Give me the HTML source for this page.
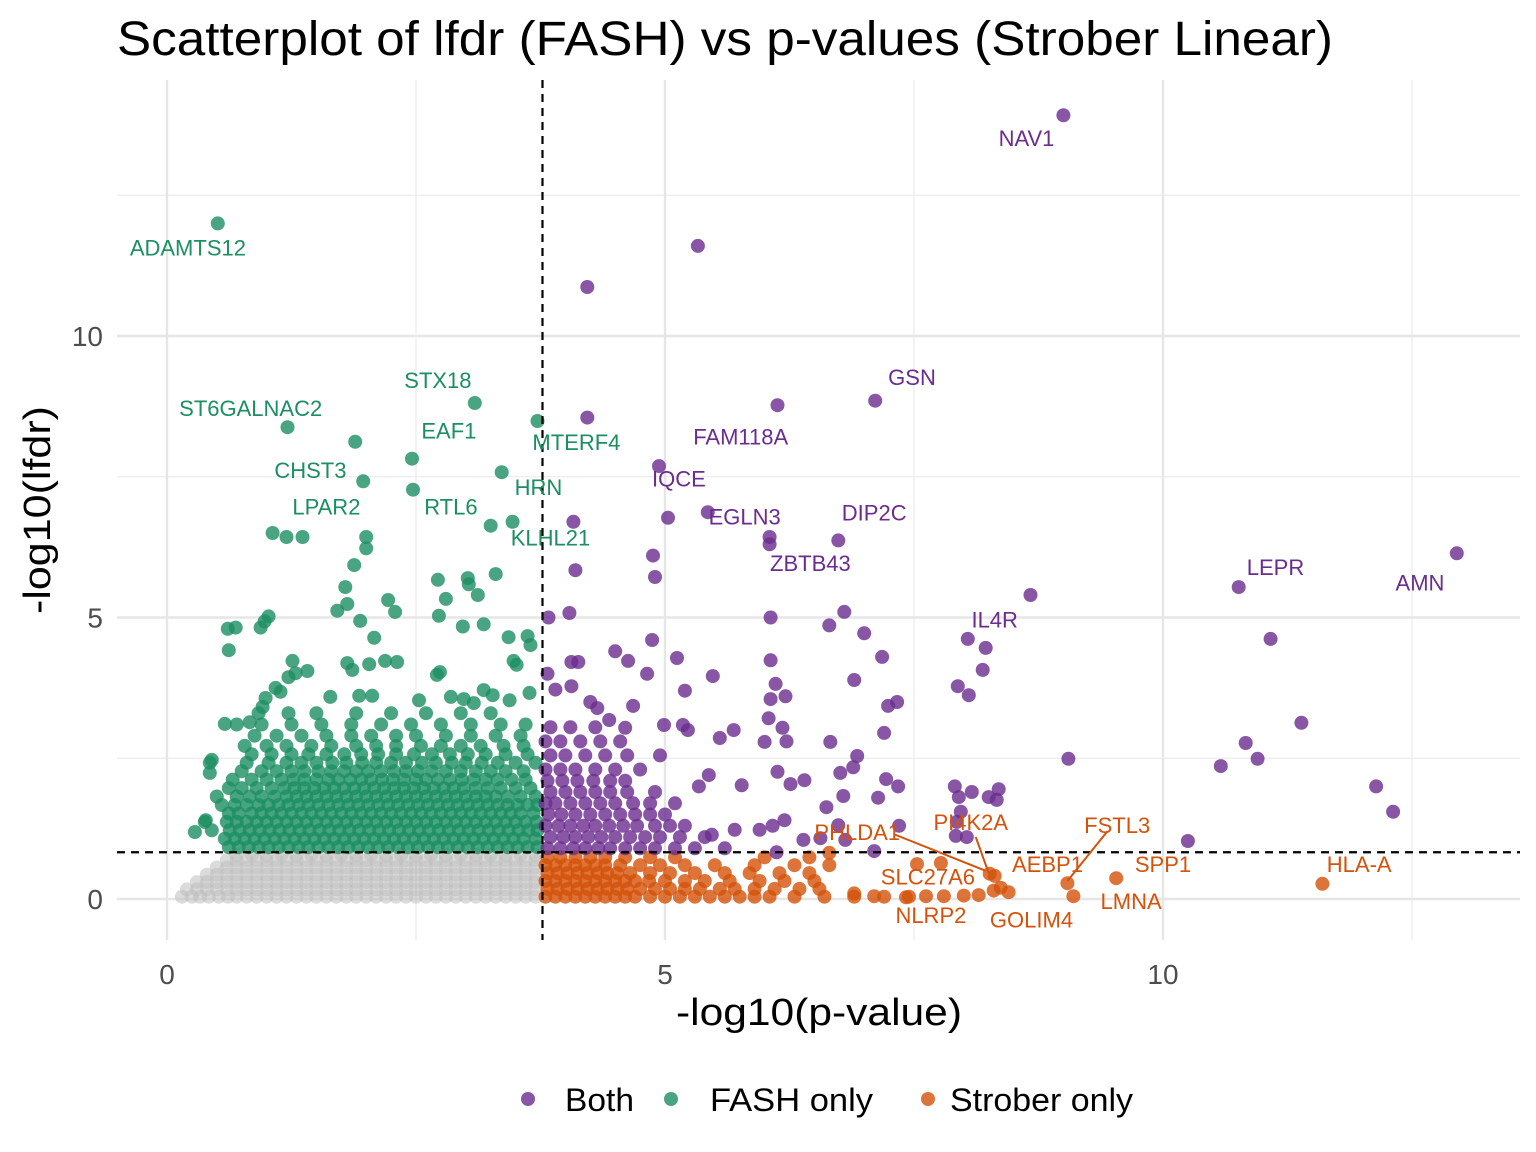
<!DOCTYPE html>
<html><head><meta charset="utf-8"><style>
html,body{margin:0;padding:0;background:#fff;}
svg{display:block;font-family:"Liberation Sans",Arial,sans-serif;}
</style></head><body>
<svg id="chart" width="1536" height="1152" viewBox="0 0 1536 1152" xmlns="http://www.w3.org/2000/svg">
<rect width="1536" height="1152" fill="#fff"/>
<text x="117" y="55" font-size="48" textLength="1216" lengthAdjust="spacingAndGlyphs" fill="#000">Scatterplot of lfdr (FASH) vs p-values (Strober Linear)</text>
<g id="grid"></g>
<g id="pts"></g>
<g id="labels"></g>
<text x="819" y="1025" font-size="38" textLength="286" lengthAdjust="spacingAndGlyphs" text-anchor="middle" fill="#000">-log10(p-value)</text>
<text transform="translate(50,510) rotate(-90)" font-size="38" textLength="208" lengthAdjust="spacingAndGlyphs" text-anchor="middle" fill="#000">-log10(lfdr)</text>
<g font-size="32" fill="#000">
<g><circle cx="528" cy="1099" r="7" fill="#6a2c8f" fill-opacity="0.8"/><text x="565" y="1111" textLength="69" lengthAdjust="spacingAndGlyphs">Both</text></g>
<g><circle cx="671" cy="1099" r="7" fill="#1b8e62" fill-opacity="0.8"/><text x="710" y="1111" textLength="163" lengthAdjust="spacingAndGlyphs">FASH only</text></g>
<g><circle cx="928" cy="1099" r="7" fill="#d4520a" fill-opacity="0.8"/><text x="950" y="1111" textLength="183" lengthAdjust="spacingAndGlyphs">Strober only</text></g>
</g>
</svg>
<script>
const xTicks = [0, 5, 10];
const yTicks = [0, 5, 10];
const xMinor = [2.5, 7.5, 12.5];
const yMinor = [2.5, 7.5, 12.5];
const pThreshold = 3.77;
const lfdrThreshold = 0.83;

const greyRowY = [0.04, 0.17, 0.3, 0.43, 0.56, 0.69, 0.78];
const greyRowX = [
 [0.15,0.25,0.33,0.42,0.52,0.61,0.7,0.8,0.9,1.0,1.1,1.2,1.3,1.4,1.5,1.6,1.7,1.8,1.9,2.0,2.1,2.2,2.3,2.4,2.5,2.6,2.7,2.8,2.9,3.0,3.1,3.2,3.3,3.4,3.5,3.6,3.7],
 [0.2,0.3,0.4,0.5,0.6,0.7,0.8,0.9,1.0,1.1,1.2,1.3,1.4,1.5,1.6,1.7,1.8,1.9,2.0,2.1,2.2,2.3,2.4,2.5,2.6,2.7,2.8,2.9,3.0,3.1,3.2,3.3,3.4,3.5,3.6,3.7],
 [0.3,0.4,0.5,0.6,0.7,0.8,0.9,1.0,1.1,1.2,1.3,1.4,1.5,1.6,1.7,1.8,1.9,2.0,2.1,2.2,2.3,2.4,2.5,2.6,2.7,2.8,2.9,3.0,3.1,3.2,3.3,3.4,3.5,3.6,3.7],
 [0.4,0.5,0.6,0.7,0.8,0.9,1.0,1.1,1.2,1.3,1.4,1.5,1.6,1.7,1.8,1.9,2.0,2.1,2.2,2.3,2.4,2.5,2.6,2.7,2.8,2.9,3.0,3.1,3.2,3.3,3.4,3.5,3.6,3.7],
 [0.5,0.6,0.7,0.8,0.9,1.0,1.1,1.2,1.3,1.4,1.5,1.6,1.7,1.8,1.9,2.0,2.1,2.2,2.3,2.4,2.5,2.6,2.7,2.8,2.9,3.0,3.1,3.2,3.3,3.4,3.5,3.6,3.7],
 [0.6,0.7,0.8,0.9,1.0,1.1,1.2,1.3,1.4,1.5,1.6,1.7,1.8,1.9,2.0,2.1,2.2,2.3,2.4,2.5,2.6,2.7,2.8,2.9,3.0,3.1,3.2,3.3,3.4,3.5,3.6,3.7],
 [0.7,0.85,1.0,1.15,1.3,1.45,1.6,1.75,1.9,2.05,2.2,2.35,2.5,2.65,2.8,2.95,3.1,3.25,3.4,3.55,3.7]
];

const fashRowY = [0.92,1.07,1.22,1.37,1.52,1.67,1.82,1.97,2.12,2.27,2.42,2.57,2.72,2.9,3.1,3.3];
const fashRowX = [
 [0.62,0.72,0.82,0.92,1.02,1.12,1.22,1.32,1.42,1.52,1.62,1.72,1.82,1.92,2.02,2.12,2.22,2.32,2.42,2.52,2.62,2.72,2.82,2.92,3.02,3.12,3.22,3.32,3.42,3.52,3.62,3.72],
 [0.58,0.68,0.78,0.88,0.98,1.08,1.18,1.28,1.38,1.48,1.58,1.68,1.78,1.88,1.98,2.08,2.18,2.28,2.38,2.48,2.58,2.68,2.78,2.88,2.98,3.08,3.18,3.28,3.38,3.48,3.58,3.7],
 [0.45,0.63,0.73,0.83,0.93,1.03,1.13,1.23,1.33,1.43,1.53,1.63,1.73,1.83,1.93,2.03,2.13,2.23,2.33,2.43,2.53,2.63,2.73,2.83,2.93,3.03,3.13,3.23,3.33,3.43,3.53,3.63,3.72],
 [0.38,0.6,0.7,0.8,0.9,1.0,1.1,1.2,1.3,1.4,1.5,1.6,1.7,1.8,1.9,2.0,2.1,2.2,2.3,2.4,2.5,2.6,2.7,2.8,2.9,3.0,3.1,3.2,3.3,3.4,3.5,3.6,3.71],
 [0.62,0.72,0.85,0.95,1.05,1.15,1.25,1.35,1.45,1.55,1.65,1.75,1.85,1.95,2.05,2.15,2.25,2.35,2.45,2.55,2.65,2.75,2.85,2.95,3.05,3.15,3.25,3.35,3.45,3.55,3.68],
 [0.55,0.68,0.8,0.92,1.02,1.12,1.22,1.32,1.42,1.52,1.62,1.72,1.82,1.92,2.02,2.12,2.22,2.32,2.42,2.52,2.62,2.72,2.82,2.92,3.02,3.12,3.22,3.32,3.42,3.52,3.62,3.72],
 [0.5,0.7,0.83,0.95,1.08,1.2,1.3,1.4,1.5,1.6,1.7,1.8,1.9,2.0,2.1,2.2,2.3,2.4,2.5,2.6,2.7,2.8,2.9,3.0,3.1,3.2,3.3,3.42,3.55,3.7],
 [0.62,0.75,0.9,1.05,1.18,1.28,1.38,1.48,1.58,1.68,1.78,1.88,1.98,2.08,2.18,2.28,2.38,2.48,2.58,2.68,2.78,2.88,2.98,3.1,3.22,3.35,3.5,3.65],
 [0.66,0.85,1.0,1.15,1.27,1.38,1.5,1.62,1.72,1.84,1.95,2.05,2.16,2.27,2.38,2.5,2.6,2.72,2.84,2.96,3.08,3.2,3.32,3.46,3.6],
 [0.75,0.95,1.1,1.25,1.38,1.52,1.65,1.78,1.9,2.02,2.15,2.28,2.4,2.52,2.66,2.8,2.95,3.1,3.25,3.4,3.58],
 [0.43,0.8,1.02,1.2,1.35,1.5,1.66,1.8,1.96,2.1,2.25,2.4,2.56,2.7,2.86,3.0,3.16,3.32,3.5,3.7],
 [0.85,1.05,1.25,1.42,1.6,1.78,1.95,2.12,2.3,2.48,2.66,2.84,3.02,3.2,3.4,3.62],
 [0.78,1.0,1.2,1.45,1.65,1.9,2.1,2.3,2.55,2.75,2.95,3.15,3.38,3.58],
 [0.88,1.1,1.35,1.6,1.85,2.05,2.3,2.5,2.8,3.05,3.3,3.55],
 [0.7,0.95,1.25,1.55,1.85,2.15,2.45,2.75,3.05,3.35,3.6],
 [0.92,1.22,1.5,1.9,2.25,2.6,2.95,3.25]
];
const fashX = [0.51,1.21,3.09,3.72,1.89,2.46,1.97,2.47,3.36,3.25,3.47,1.06,1.2,1.36,2.0,2.0,0.61,0.69,0.94,0.98,1.02,0.62,0.58,1.26,1.29,1.41,1.71,1.79,1.81,1.88,1.94,1.81,1.86,2.08,2.03,2.22,2.29,2.19,2.31,2.72,2.8,2.73,3.02,3.03,3.12,3.3,2.97,3.18,3.43,3.62,3.65,3.48,3.51,2.74,2.71,3.18,3.27,3.44,3.64,1.22,1.09,1.14,0.99,0.96,0.83,1.64,1.93,2.06,2.53,2.85,2.98,3.08,0.28,0.39,0.45,0.43];
const fashY = [12.0,8.38,8.81,8.49,8.12,7.82,7.42,7.27,7.58,6.63,6.7,6.5,6.43,6.43,6.43,6.23,4.8,4.82,4.82,4.93,5.02,4.42,3.11,4.23,4.01,4.05,5.12,5.54,5.24,5.93,4.94,4.19,4.07,4.64,4.17,5.31,5.1,4.23,4.21,5.67,5.33,5.03,5.7,5.59,5.4,5.77,4.84,4.88,4.65,4.67,4.51,4.23,4.16,4.03,3.98,3.71,3.62,3.53,3.66,3.94,3.75,3.68,3.57,3.41,3.14,3.59,3.61,3.61,3.53,3.59,3.55,3.48,1.19,1.4,2.47,2.24];

const bothRowY = [0.9,1.1,1.3,1.5,1.7,1.9,2.1,2.3,2.55,2.8,3.05];
const bothRowX = [
 [3.82,3.95,4.08,4.2,4.33,4.45,4.6,4.75,4.9,5.1,5.3,5.6],
 [3.85,3.98,4.1,4.23,4.36,4.5,4.65,4.8,4.95,5.15,5.4],
 [3.8,3.93,4.05,4.18,4.3,4.44,4.58,4.72,4.9,5.05,5.2],
 [3.83,3.96,4.1,4.25,4.4,4.55,4.7,4.85,5.0],
 [3.8,3.9,4.05,4.2,4.35,4.5,4.68,4.85,5.1],
 [3.85,4.0,4.15,4.3,4.45,4.62,4.9],
 [3.82,3.97,4.12,4.28,4.45,4.6],
 [3.8,3.95,4.1,4.3,4.5,4.75],
 [3.85,4.0,4.2,4.4,4.62,4.95],
 [3.8,3.95,4.15,4.35,4.55],
 [3.85,4.05,4.3]
];
const bothX = [9.0,5.33,4.22,7.11,6.13,4.22,4.94,5.03,5.43,6.74,6.05,6.05,4.08,4.88,4.9,4.1,10.76,12.95,8.04,8.67,8.22,11.08,11.39,9.05,10.83,10.95,10.58,12.14,12.31,10.25,3.83,4.04,3.82,3.9,4.06,4.13,4.06,4.5,4.63,4.82,4.87,5.12,5.2,5.48,6.06,6.06,6.11,6.06,6.21,6.04,6.18,6.65,6.8,7.0,7.18,6.9,7.33,7.24,7.2,7.94,8.05,8.19,4.25,4.32,4.44,4.6,4.68,4.99,5.18,5.23,5.55,5.69,6.0,6.22,6.66,6.93,6.89,6.76,6.4,6.26,6.13,5.77,5.44,5.34,7.22,7.34,7.14,6.79,6.62,7.91,8.08,8.35,8.25,8.33,7.95,7.97,7.93,8.03,7.92,7.1,7.35,6.74,6.81,6.56,6.2,6.08,6.39,5.7,5.47,5.95,6.12];
const bothY = [13.92,11.6,10.87,8.85,8.77,8.55,7.69,6.77,6.87,6.37,6.43,6.3,6.7,6.1,5.72,5.84,5.54,6.14,4.62,5.4,4.46,4.62,3.13,2.49,2.77,2.49,2.36,2.0,1.55,1.03,5.0,5.08,4.0,3.72,4.21,4.21,3.78,4.4,4.23,4.0,4.6,4.28,3.7,3.96,5.0,4.24,3.82,3.55,3.6,3.21,3.04,4.86,5.1,4.72,4.3,3.89,3.5,3.43,2.95,3.78,3.62,4.07,3.5,3.39,3.18,3.04,3.43,3.09,3.09,3.0,2.86,3.0,2.79,2.8,2.79,2.54,2.34,2.24,2.11,2.04,2.26,2.02,2.2,2.0,2.13,2.0,1.8,1.83,1.63,2.0,1.9,1.95,1.81,1.76,1.81,1.55,1.37,1.1,1.12,0.85,1.3,1.31,1.05,1.08,1.4,1.3,1.05,1.23,1.14,1.23,0.83];

const strobRowY = [0.04,0.18,0.32,0.46,0.6,0.74];
const strobRowX = [
 [3.8,3.9,4.0,4.1,4.2,4.3,4.4,4.5,4.6,4.7,4.85,5.0,5.15,5.3,5.45,5.6,5.75,5.9,6.05,6.3,6.6,6.9,7.2,7.45],
 [3.82,3.92,4.02,4.12,4.22,4.32,4.42,4.52,4.62,4.75,4.9,5.05,5.2,5.35,5.55,5.7,5.9,6.1,6.35,6.55],
 [3.8,3.9,4.0,4.1,4.2,4.3,4.4,4.5,4.6,4.7,4.84,5.0,5.2,5.4,5.65,5.95,6.2,6.5],
 [3.82,3.92,4.02,4.12,4.22,4.32,4.42,4.52,4.65,4.85,5.05,5.3,5.6,5.85,6.15,6.45],
 [3.8,3.9,4.0,4.1,4.2,4.3,4.4,4.55,4.75,4.95,5.2,5.5,5.9,6.3,6.65],
 [3.82,3.95,4.1,4.25,4.4,4.6,4.85,5.1,6.0,6.45]
];
const strobX = [7.53,7.77,7.8,7.62,7.42,8.0,8.15,8.26,8.31,8.3,8.37,8.45,9.04,9.1,9.53,11.6,6.65,6.9,7.1];
const strobY = [0.62,0.64,0.05,0.05,0.03,0.06,0.07,0.45,0.41,0.15,0.2,0.12,0.28,0.05,0.37,0.27,0.82,0.1,0.05];

const geneNames = ["NAV1","ADAMTS12","GSN","FAM118A","STX18","ST6GALNAC2","MTERF4","EAF1","CHST3","IQCE","HRN","RTL6","LPAR2","EGLN3","DIP2C","ZBTB43","KLHL21","LEPR","AMN","IL4R","FSTL3","PI4K2A","PHLDA1","AEBP1","SPP1","HLA-A","SLC27A6","LMNA","NLRP2","GOLIM4"];
const geneLabelX = [8.63,0.21,7.48,5.76,2.72,0.84,4.11,2.83,1.44,5.14,3.73,2.85,1.6,5.8,7.1,6.46,3.85,11.13,12.58,8.31,9.54,8.07,6.93,8.84,10.0,11.97,7.64,9.68,7.67,8.68];
const geneLabelY = [13.5,11.55,9.25,8.2,9.2,8.7,8.1,8.3,7.6,7.45,7.3,6.95,6.95,6.78,6.85,5.95,6.4,5.88,5.6,4.95,1.3,1.35,1.17,0.6,0.6,0.6,0.38,-0.05,-0.3,-0.38];
const geneGroup = ["both","fash","both","both","fash","fash","fash","fash","fash","both","fash","fash","fash","both","both","both","fash","both","both","both","strob","strob","strob","strob","strob","strob","strob","strob","strob","strob"];

const X0=167, XS=99.6, Y0=899, YS=56.3;
function sx(v){return X0+v*XS;}
function sy(v){return Y0-v*YS;}
const NS="http://www.w3.org/2000/svg";
const colors={both:"#6a2c8f",fash:"#1b8e62",strob:"#d4520a",grey:"#bdbdbd"};
const labelColors={both:"#6a2c8f",fash:"#1b8e62",strob:"#d4520a"};

const grid=document.getElementById('grid');
function line(x1,y1,x2,y2,stroke,w,dash){const l=document.createElementNS(NS,'line');l.setAttribute('x1',x1);l.setAttribute('y1',y1);l.setAttribute('x2',x2);l.setAttribute('y2',y2);l.setAttribute('stroke',stroke);l.setAttribute('stroke-width',w);if(dash)l.setAttribute('stroke-dasharray',dash);return l;}
xMinor.forEach(v=>{const l=line(sx(v),80,sx(v),940,'#ebebeb',1.2);


grid.appendChild(l);});
yMinor.forEach(v=>{const l=line(117,sy(v),1520,sy(v),'#ebebeb',1.2);


grid.appendChild(l);});
xTicks.forEach(v=>{const l=line(sx(v),80,sx(v),940,'#e6e6e6',2.4);


grid.appendChild(l);
const t=document.createElementNS(NS,'text');t.setAttribute('x',sx(v));t.setAttribute('y',984);t.setAttribute('font-size','28');t.setAttribute('fill','#4d4d4d');t.setAttribute('text-anchor','middle');t.textContent=v;


grid.appendChild(t);});
yTicks.forEach(v=>{const l=line(117,sy(v),1520,sy(v),'#e6e6e6',2.4);


grid.appendChild(l);
const t=document.createElementNS(NS,'text');t.setAttribute('x',103);t.setAttribute('y',sy(v)+10);t.setAttribute('font-size','28');t.setAttribute('fill','#4d4d4d');t.setAttribute('text-anchor','end');t.textContent=v;


grid.appendChild(t);});

const pts=document.getElementById('pts');
function dot(x,y,c,op,name){const e=document.createElementNS(NS,'circle');e.setAttribute('cx',sx(x).toFixed(1));e.setAttribute('cy',sy(y).toFixed(1));e.setAttribute('r',7);e.setAttribute('fill',c);e.setAttribute('fill-opacity',op);


pts.appendChild(e);}
greyRowY.forEach((y,i)=>greyRowX[i].forEach(x=>dot(x,y,colors.grey,0.55,'point-not-significant')));
fashRowY.forEach((y,i)=>fashRowX[i].forEach(x=>dot(x,y,colors.fash,0.8,'point-fash-only')));
fashX.forEach((x,i)=>dot(x,fashY[i],colors.fash,0.8,'point-fash-only'));
strobRowY.forEach((y,i)=>strobRowX[i].forEach(x=>dot(x,y,colors.strob,0.8,'point-strober-only')));
strobX.forEach((x,i)=>dot(x,strobY[i],colors.strob,0.8,'point-strober-only'));
bothRowY.forEach((y,i)=>bothRowX[i].forEach(x=>dot(x,y,colors.both,0.8,'point-both')));
bothX.forEach((x,i)=>dot(x,bothY[i],colors.both,0.8,'point-both'));

const vl=line(sx(pThreshold),80,sx(pThreshold),940,'#000',2.2,'8,6');


pts.appendChild(vl);
const hl=line(117,sy(lfdrThreshold),1520,sy(lfdrThreshold),'#000',2.2,'8,6');


pts.appendChild(hl);

const labs=document.getElementById('labels');
const connectors=[[7.3,1.15,8.22,0.5],[8.12,1.1,8.25,0.46],[9.44,1.2,9.04,0.32]];
connectors.forEach(c=>{const l=line(sx(c[0]),sy(c[1]),sx(c[2]),sy(c[3]),colors.strob,2);


labs.appendChild(l);});
geneNames.forEach((g,i)=>{const t=document.createElementNS(NS,'text');t.setAttribute('x',sx(geneLabelX[i]).toFixed(1));t.setAttribute('y',(sy(geneLabelY[i])+7).toFixed(1));t.setAttribute('font-size','22');t.setAttribute('text-anchor','middle');t.setAttribute('fill',labelColors[geneGroup[i]]);t.textContent=g;


labs.appendChild(t);});
</script>
</body></html>
